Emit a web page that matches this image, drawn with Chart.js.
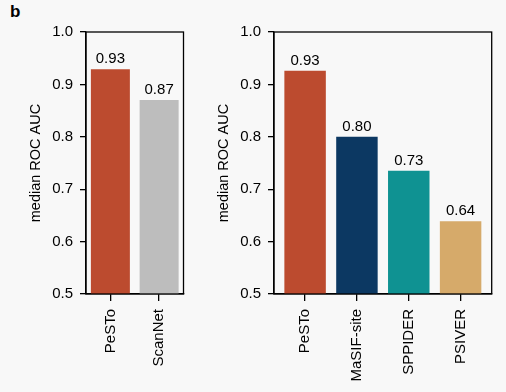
<!DOCTYPE html>
<html>
<head>
<meta charset="utf-8">
<script src="https://cdn.jsdelivr.net/npm/chart.js@4"></script>
<style>
  body { margin: 0; background: #f8f8f8; }
  #wrap { position: relative; width: 506px; height: 392px; background: #f8f8f8; overflow: hidden; }
  canvas { position: absolute; top: 0; }
  #panel { position: absolute; left: 10px; top: 2px; font: bold 17px "Liberation Sans", Arial, sans-serif; color: #000; }
</style>
</head>
<body>
<div id="wrap">
  <div id="panel">b</div>
  <canvas id="left" width="200" height="392" style="left:0"></canvas>
  <canvas id="right" width="306" height="392" style="left:200px"></canvas>
</div>
<script>
// left panel
const leftMethods = ["PeSTo", "ScanNet"];
const leftValues = [0.929, 0.870];
const leftLabels = ["0.93", "0.87"];
const leftColors = ["#bc4b2f", "#bdbdbd"];

// right panel
const rightMethods = ["PeSTo", "MaSIF-site", "SPPIDER", "PSIVER"];
const rightValues = [0.926, 0.800, 0.735, 0.639];
const rightLabels = ["0.93", "0.80", "0.73", "0.64"];
const rightColors = ["#bc4b2f", "#0c3862", "#0f9292", "#d6aa6a"];

const yTicks = [0.5, 0.6, 0.7, 0.8, 0.9, 1.0];

const FONT = "'Liberation Sans', Arial, sans-serif";
const FS = 15;
Chart.defaults.font.family = FONT;
Chart.defaults.color = "#000";

// box around the plot area + numbers above bars
const boxAndLabels = {
  id: 'boxAndLabels',
  afterDatasetsDraw(chart, args, opts) {
    const ctx = chart.ctx;
    const a = chart.chartArea;
    ctx.save();
    ctx.strokeStyle = "#000";
    ctx.lineWidth = 1.3;
    ctx.strokeRect(a.left, a.top, a.right - a.left, a.bottom - a.top);
    ctx.font = FS + "px " + FONT;
    ctx.fillStyle = "#000";
    ctx.textAlign = "center";
    ctx.textBaseline = "alphabetic";
    chart.getDatasetMeta(0).data.forEach((bar, i) => {
      ctx.fillText(opts.labels[i], bar.x, bar.y - 6);
    });
    ctx.restore();
  }
};

function makeChart(id, names, values, labels, colors, xmin, xmax, yWidth, titleOffset, padRight) {
  return new Chart(document.getElementById(id), {
    type: 'bar',
    data: {
      datasets: [{
        data: values.map((v, i) => ({ x: i, y: v })),
        backgroundColor: colors,
        borderWidth: 0,
        categoryPercentage: 1,
        barPercentage: 0.8
      }]
    },
    options: {
      responsive: false,
      animation: false,
      layout: { padding: { top: 32, right: padRight, left: 0, bottom: 0 } },
      plugins: {
        legend: { display: false },
        tooltip: { enabled: false },
        boxAndLabels: { labels: labels }
      },
      scales: {
        x: {
          type: 'linear',
          min: xmin,
          max: xmax,
          offset: false,
          afterBuildTicks: s => { s.ticks = names.map((n, i) => ({ value: i })); },
          afterFit: s => { s.height = 98; },
          grid: { offset: false, drawOnChartArea: false, drawTicks: true, tickLength: 7, color: "#000", lineWidth: 1.3 },
          border: { display: true, color: "#000", width: 1.3 },
          ticks: {
            autoSkip: false,
            maxRotation: 90,
            minRotation: 90,
            padding: 8,
            font: { size: FS },
            callback: v => names[v]
          }
        },
        y: {
          min: 0.5,
          max: 1.0,
          afterBuildTicks: s => { s.ticks = yTicks.map(v => ({ value: v })); },
          afterFit: s => { s.width = yWidth; },
          grid: { drawOnChartArea: false, drawTicks: true, tickLength: 6, color: "#000", lineWidth: 1.3 },
          border: { display: true, color: "#000", width: 1.3 },
          ticks: {
            padding: 7,
            font: { size: FS },
            callback: v => v.toFixed(1)
          },
          title: {
            display: true,
            text: "median ROC AUC",
            font: { size: 14.5 },
            padding: { top: titleOffset - 8.7, bottom: 0 }
          }
        }
      }
    },
    plugins: [boxAndLabels]
  });
}

makeChart('left', leftMethods, leftValues, leftLabels, leftColors, -0.5, 1.5, 86, 36, 16.5);
makeChart('right', rightMethods, rightValues, rightLabels, rightColors, -0.6, 3.6, 74, 24, 14.3);
</script>
</body>
</html>
